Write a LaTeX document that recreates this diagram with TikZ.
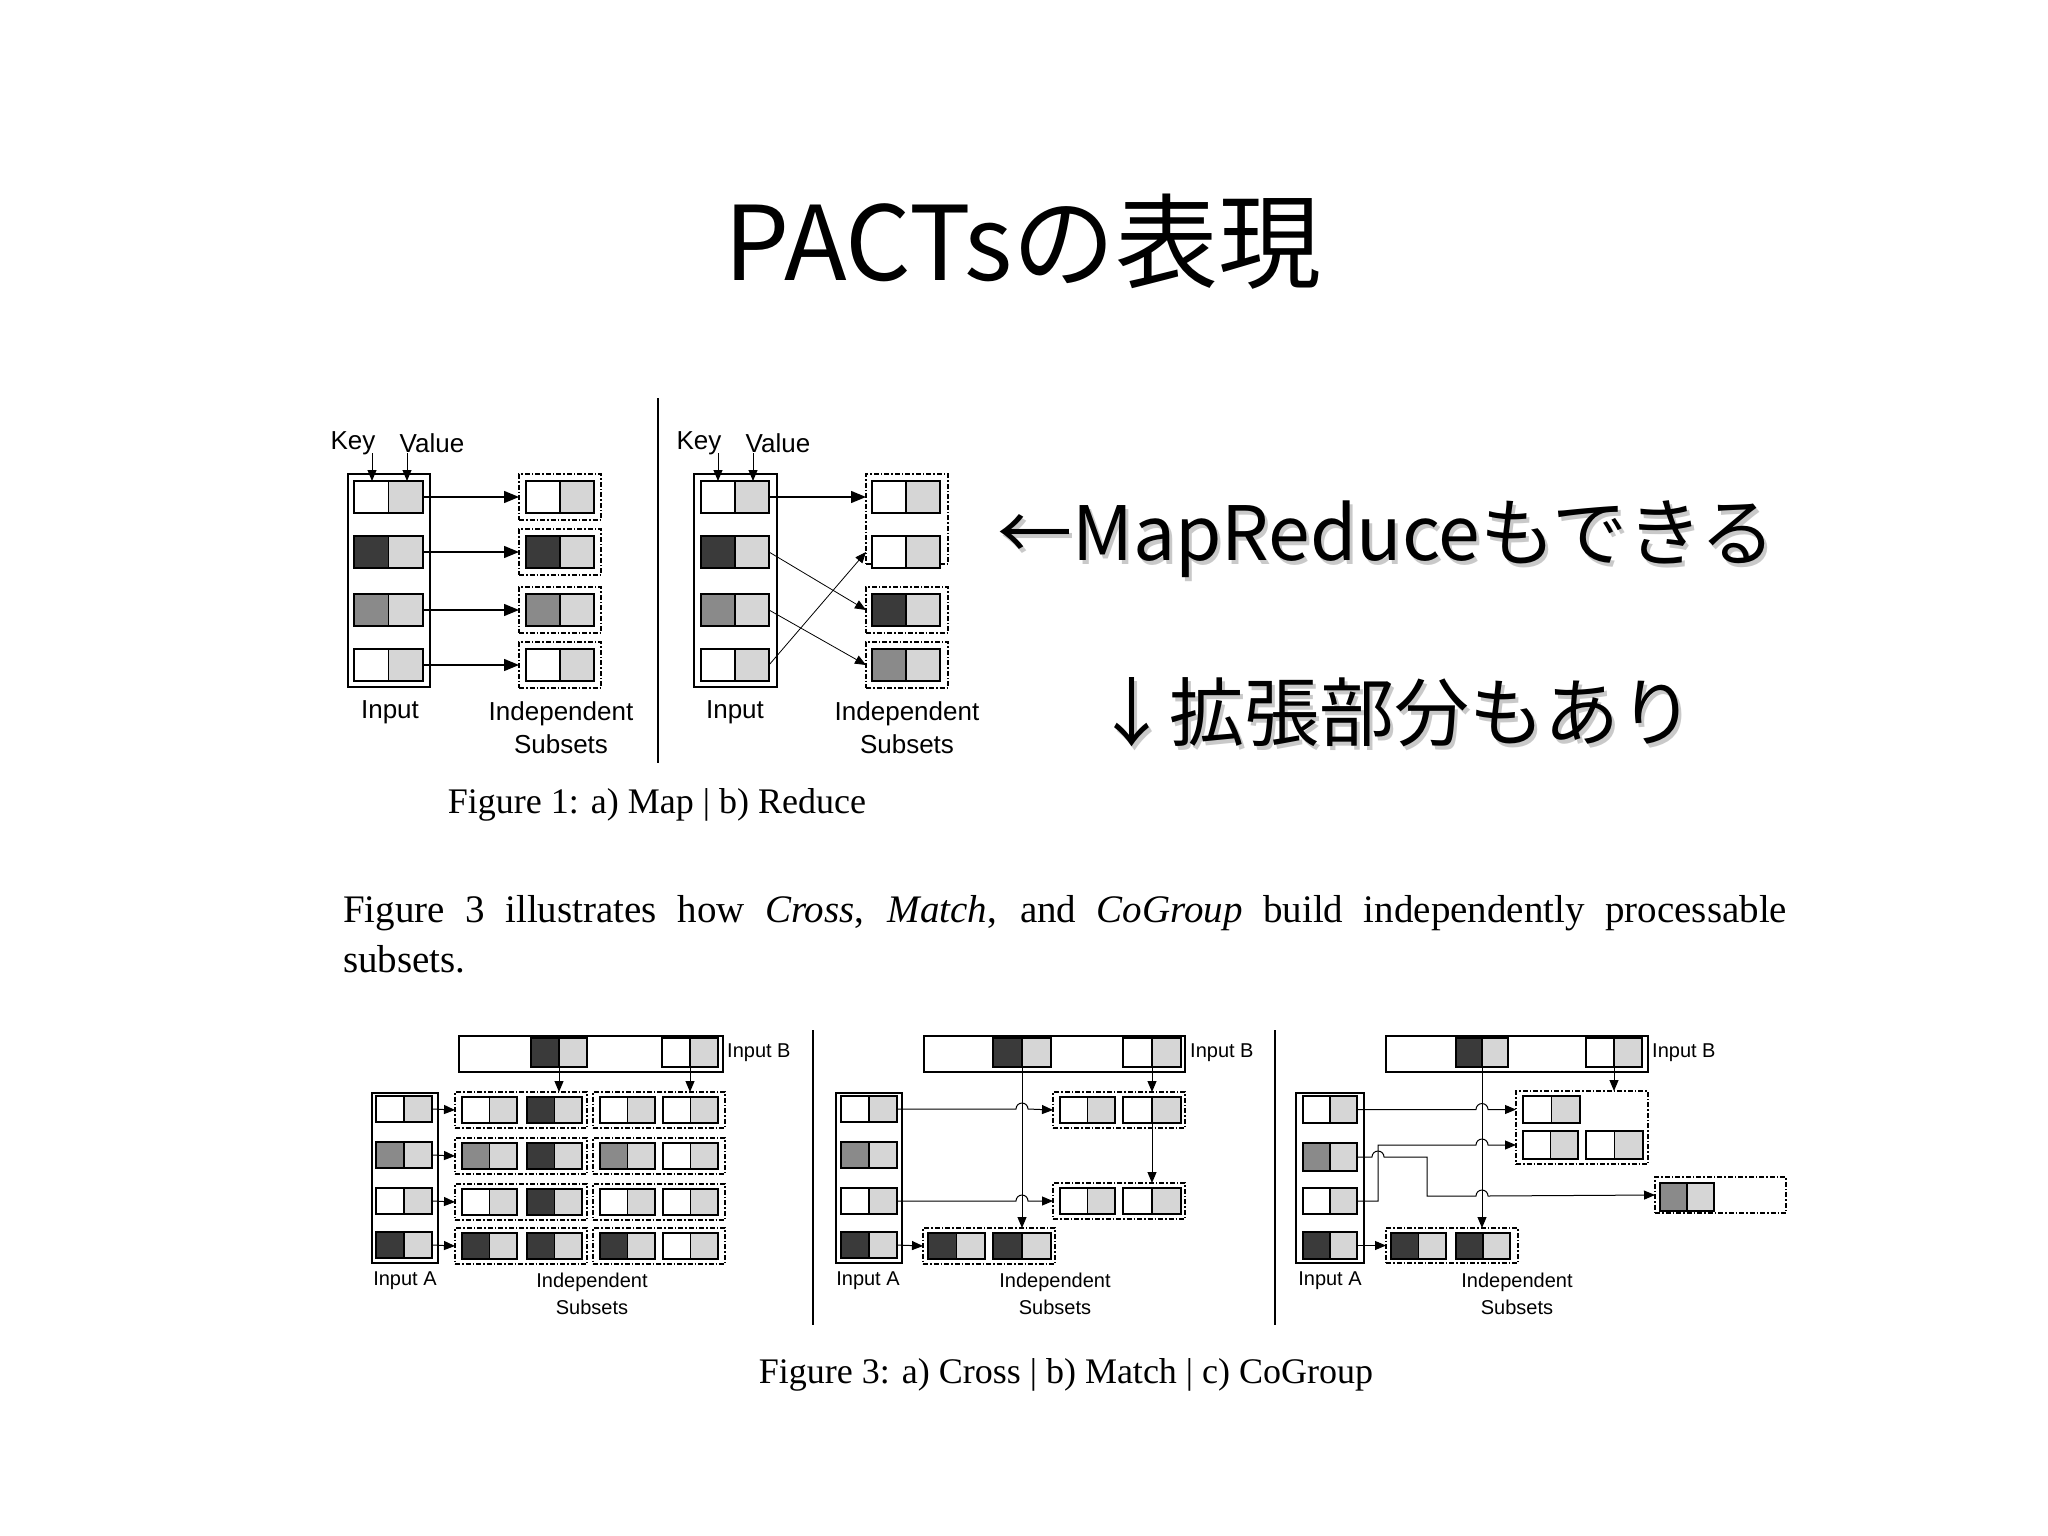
\documentclass[tikz,border=0pt]{standalone}
\usepackage{fontspec}
\setmainfont{Liberation Serif}
\newfontfamily\cjk{Noto Sans CJK JP}
\newfontfamily\lab{Liberation Sans}
\usetikzlibrary{arrows.meta}
\definecolor{dk}{HTML}{3A3A3A}
\definecolor{md}{HTML}{8A8A8A}
\definecolor{lg}{HTML}{D6D6D6}
\tikzset{
 cell/.style={draw,line width=1.3pt,inner sep=0,outer sep=0},
 ibox/.style={draw,line width=1.3pt,inner sep=0,outer sep=0,anchor=north west},
 dbox/.style={draw,line width=1.2pt,dash pattern=on 5pt off 2pt on 1.5pt off 2pt,inner sep=0,outer sep=0,anchor=north west},
 arr/.style={line width=1.4pt,-{Triangle[length=15pt,width=12pt]}},
 sarr/.style={line width=1pt,-{Triangle[length=11pt,width=9pt]}},
 labf/.style={font=\lab\fontsize{20}{24}\selectfont,inner sep=0},
 lab1/.style={font=\lab\fontsize{26}{30}\selectfont,inner sep=0},
 capf/.style={font=\fontsize{36}{40}\selectfont,inner sep=0},
 jp/.style={font=\cjk\fontsize{75}{80}\selectfont,inner sep=0,anchor=west},
}
% name, x, y(top), cell width, height, key colour
\newcommand\kv[6]{%
 \node[cell,minimum width=#4pt,minimum height=#5pt,fill=#6,anchor=north west] (#1k) at (#2,#3) {};
 \node[cell,minimum width=#4pt,minimum height=#5pt,fill=lg,anchor=west] (#1v) at (#1k.east) {};}
\begin{document}
\begin{tikzpicture}[x=1pt,y=-1pt]
\useasboundingbox[fill=white] (0,0) rectangle (2048,1536);
% title
\node[font=\cjk\fontsize{103}{106}\selectfont,inner sep=0] (title) at (1023,242) {PACTsの表現};
% japanese remarks
\node[jp,text=black!35,opacity=0.6] (m1s) at (1000,543) {←MapReduceもできる};
\node[jp] (m1) at (997,539) {←MapReduceもできる};
\node[jp,text=black!35,opacity=0.6] (m2s) at (1097,716) {↓拡張部分もあり};
\node[jp] (m2) at (1094,712) {↓拡張部分もあり};

% ================= Figure 1 a) Map =================
\node[ibox,minimum width=82pt,minimum height=213pt,line width=1.6pt] (in1) at (348,474) {};
\kv{a1}{354}{481}{34.5}{32}{white}
\kv{a2}{354}{536}{34.5}{32}{dk}
\kv{a3}{354}{594}{34.5}{32}{md}
\kv{a4}{354}{649}{34.5}{32}{white}
\node[dbox,minimum width=82pt,minimum height=46pt] (s1) at (519,474) {};
\node[dbox,minimum width=82pt,minimum height=46pt] (s2) at (519,529) {};
\node[dbox,minimum width=82pt,minimum height=46pt] (s3) at (519,587) {};
\node[dbox,minimum width=82pt,minimum height=46pt] (s4) at (519,642) {};
\kv{c1}{526}{481}{34}{32}{white}
\kv{c2}{526}{536}{34}{32}{dk}
\kv{c3}{526}{594}{34}{32}{md}
\kv{c4}{526}{649}{34}{32}{white}
\draw[arr] (a1v.east) -- (s1.west);
\draw[arr] (a2v.east) -- (s2.west);
\draw[arr] (a3v.east) -- (s3.west);
\draw[arr] (a4v.east) -- (s4.west);
\node[lab1] (key1) at (353,443) {Key};
\node[lab1] (val1) at (432,443) {Value};
\draw[sarr] (372,453) -- (a1k.north -| 372,0);
\draw[sarr] (407,453) -- (a1v.north -| 407,0);
\node[lab1] (inl1) at (390,712) {Input};
\node[lab1,align=center] (isl1) at (561,728) {Independent\\[3pt]Subsets};

\draw[line width=1.6pt] (658,398) -- (658,763);

% ================= Figure 1 b) Reduce =================
\node[ibox,minimum width=83pt,minimum height=213pt,line width=1.6pt] (in2) at (694,474) {};
\kv{b1}{701}{481}{34}{32}{white}
\kv{b2}{701}{536}{34}{32}{dk}
\kv{b3}{701}{594}{34}{32}{md}
\kv{b4}{701}{649}{34}{32}{white}
\node[dbox,minimum width=82pt,minimum height=90pt] (t2) at (866,474) {};
\node[dbox,minimum width=82pt,minimum height=46pt] (t3) at (866,587) {};
\node[dbox,minimum width=82pt,minimum height=46pt] (t4) at (866,642) {};
\kv{d1}{872}{481}{34}{32}{white}
\kv{d2}{872}{536}{34}{32}{white}
\kv{d3}{872}{594}{34}{32}{dk}
\kv{d4}{872}{649}{34}{32}{md}
\draw[arr] (b1v.east) -- (d1k.west -| t2.west);
\draw[sarr,line width=0.8pt] (b2v.east) -- (t3.west);
\draw[sarr,line width=0.8pt] (b3v.east) -- (t4.west);
\draw[sarr,line width=0.8pt] (b4v.east) -- (d2k.west -| t2.west);
\node[lab1] (key2) at (699,443) {Key};
\node[lab1] (val2) at (778,443) {Value};
\draw[sarr] (718,453) -- (b1k.north -| 718,0);
\draw[sarr] (753,453) -- (b1v.north -| 753,0);
\node[lab1] (inl2) at (735,712) {Input};
\node[lab1,align=center] (isl2) at (907,728) {Independent\\[3pt]Subsets};

\node[capf] (cap1) at (657,805) {Figure 1: a) Map | b) Reduce};

% paragraph
\node[inner sep=0,anchor=base west,font=\fontsize{39}{50}\selectfont] (para) at (343,922)
 {\parbox[t]{1444pt}{Figure 3 illustrates how \textit{Cross}, \textit{Match}, and \textit{CoGroup} build independently processable\linebreak subsets.}};

% ================= Figure 3 a) Cross =================
\node[ibox,minimum width=264pt,minimum height=36pt] (Ba) at (459,1036) {};
\kv{pa1}{531}{1038}{28}{29}{dk}
\kv{pa2}{662}{1038}{28}{29}{white}
\node[labf,anchor=west] (iba) at (727,1053) {Input B};
\node[ibox,minimum width=66pt,minimum height=170pt] (Aa) at (372,1093) {};
\kv{ra1}{376}{1096}{28}{26}{white}
\kv{ra2}{376}{1142}{28}{26}{md}
\kv{ra3}{376}{1188}{28}{26}{white}
\kv{ra4}{376}{1232}{28}{26}{dk}
\foreach \r/\t/\c in {1/1092/white,2/1138/md,3/1184/white,4/1228/dk}{
 \node[dbox,minimum width=132pt,minimum height=36pt] (sa\r1) at (455,\t) {};
 \node[dbox,minimum width=132pt,minimum height=36pt] (sa\r2) at (593,\t) {};
 \kv{qa\r1}{462}{\t+5}{27.5}{26}{\c}
 \kv{qa\r2}{527}{\t+5}{27.5}{26}{dk}
 \kv{qa\r3}{600}{\t+5}{27.5}{26}{\c}
 \kv{qa\r4}{663}{\t+5}{27.5}{26}{white}
 \draw[sarr] (ra\r v.east) -- (sa\r1.west);
}
\draw[sarr] (pa1k.south east) -- (pa1k.south east |- sa11.north);
\draw[sarr] (pa2k.south east) -- (pa2k.south east |- sa12.north);
\node[labf] (iaa) at (405,1281) {Input A};
\node[labf,align=center] (isa) at (592,1294) {Independent\\[3pt]Subsets};
\draw[line width=1.4pt] (813,1030) -- (813,1325);

% ================= Figure 3 b) Match =================
\node[ibox,minimum width=261pt,minimum height=36pt] (Bb) at (924,1036) {};
\kv{pb1}{993}{1038}{29}{29}{dk}
\kv{pb2}{1123}{1038}{29}{29}{white}
\node[labf,anchor=west] (ibb) at (1190,1053) {Input B};
\node[ibox,minimum width=66pt,minimum height=170pt] (Ab) at (836,1093) {};
\kv{rb1}{841}{1096}{28}{26}{white}
\kv{rb2}{841}{1142}{28}{26}{md}
\kv{rb3}{841}{1188}{28}{26}{white}
\kv{rb4}{841}{1232}{28}{26}{dk}
\node[dbox,minimum width=132pt,minimum height=36pt] (sb1) at (1053,1092) {};
\node[dbox,minimum width=132pt,minimum height=36pt] (sb2) at (1053,1183) {};
\node[dbox,minimum width=132pt,minimum height=36pt] (sb3) at (923,1228) {};
\kv{qb1}{1060}{1097}{27.5}{26}{white}
\kv{qb2}{1123}{1097}{29}{26}{white}
\kv{qb3}{1060}{1188}{27.5}{26}{white}
\kv{qb4}{1123}{1188}{29}{26}{white}
\kv{qb5}{928}{1233}{28.5}{26}{dk}
\kv{qb6}{993}{1233}{29}{26}{dk}
\draw[sarr] (pb1k.south east) -- (pb1k.south east |- sb3.north);
\draw[sarr] (pb2k.south east) -- (pb2k.south east |- sb1.north);
\draw[sarr] (qb2k.south east) -- (qb2k.south east |- sb2.north);
\draw[sarr] (rb1v.east) -- (1016,1109) arc (180:360:6) -- (sb1.west);
\draw[sarr] (rb3v.east) -- (1016,1201) arc (180:360:6) -- (sb2.west);
\draw[sarr] (rb4v.east) -- (sb3.west);
\node[labf] (iab) at (868,1281) {Input A};
\node[labf,align=center] (isb) at (1055,1294) {Independent\\[3pt]Subsets};
\draw[line width=1.4pt] (1275,1030) -- (1275,1325);

% ================= Figure 3 c) CoGroup =================
\node[ibox,minimum width=262pt,minimum height=36pt] (Bc) at (1386,1036) {};
\kv{pc1}{1456}{1038}{26}{29}{dk}
\kv{pc2}{1586}{1038}{28}{29}{white}
\node[labf,anchor=west] (ibc) at (1652,1053) {Input B};
\node[ibox,minimum width=68pt,minimum height=170pt] (Ac) at (1296,1093) {};
\kv{rc1}{1303}{1096}{27}{27}{white}
\kv{rc2}{1303}{1143}{27}{28}{md}
\kv{rc3}{1303}{1188}{27}{26}{white}
\kv{rc4}{1303}{1232}{27}{27}{dk}
\node[dbox,minimum width=132pt,minimum height=73pt] (sc1) at (1516,1091) {};
\node[dbox,minimum width=131pt,minimum height=36pt] (sc2) at (1655,1177) {};
\node[dbox,minimum width=132pt,minimum height=35pt] (sc3) at (1386,1228) {};
\kv{qc1}{1523}{1096}{28.5}{27}{white}
\kv{qc2}{1523}{1131}{27.5}{28}{white}
\kv{qc3}{1586}{1131}{28.5}{28}{white}
\kv{qc4}{1660}{1183}{27}{28}{md}
\kv{qc5}{1391}{1233}{27.5}{26}{dk}
\kv{qc6}{1456}{1233}{27}{26}{dk}
\draw[sarr] (pc1k.south east) -- (pc1k.south east |- sc3.north);
\draw[sarr] (pc2k.south east) -- (pc2k.south east |- sc1.north);
\draw[sarr] (rc1v.east) -- (1476,1109.5) arc (180:360:6) -- (1516,1109.5);
\draw[sarr] (rc3v.east) -- (1378,1201) -- (1378,1145) -- (1476,1145) arc (180:360:6) -- (1516,1145);
\draw[sarr] (rc2v.east) -- (1372,1157) arc (180:360:6) -- (1427,1157) -- (1427,1196) -- (1476,1196) arc (180:360:6) -- (sc2.west);
\draw[sarr] (rc4v.east) -- (sc3.west);
\node[labf] (iac) at (1330,1281) {Input A};
\node[labf,align=center] (isc) at (1517,1294) {Independent\\[3pt]Subsets};

\node[capf] (cap3) at (1066,1375) {Figure 3: a) Cross | b) Match | c) CoGroup};
\end{tikzpicture}
\end{document}
